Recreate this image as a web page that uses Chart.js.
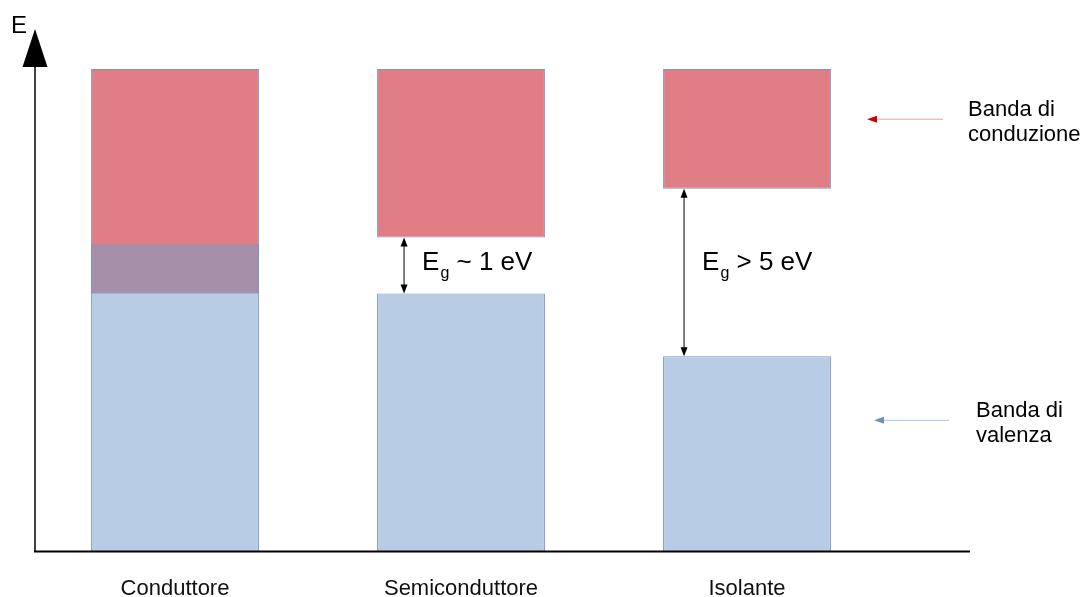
<!DOCTYPE html>
<html>
<head>
<meta charset="utf-8">
<script src="https://cdn.jsdelivr.net/npm/chart.js@4/dist/chart.umd.min.js"></script>
<style>
  html, body { margin: 0; padding: 0; background: #fff; }
  #wrap { width: 1083px; height: 597px; position: relative; }
</style>
</head>
<body>
<div id="wrap"><canvas id="chart"></canvas></div>
<script>
  // energy levels in arbitrary units (0 = axis, 10 = top of the bands)
  const categories     = ['Conduttore', 'Semiconduttore', 'Isolante'];
  const valenceBand    = [[0, 6.37], [0, 5.35], [0, 4.05]];
  const conductionBand = [[5.35, 10], [6.51, 10], [7.52, 10]];
  const overlapBand    = [[5.35, 6.37], null, null];
  const gapLabels      = [null, '~ 1 eV', '> 5 eV'];
  const sideLabels     = [['Banda di', 'conduzione'], ['Banda di', 'valenza']];
  const sideLevels     = [8.96, 2.72];

  const RED    = '#E17E85';
  const BLUE   = '#B8CDE5';
  const MIX    = '#A68FA9';
  const EDGE   = '#7C95C6';
  const INK    = '#000000';
  const FONT   = "'Liberation Sans', Arial, sans-serif";

  function arrowHead(ctx, x, y, dx, dy, len, half, color) {
    ctx.save();
    ctx.fillStyle = color;
    ctx.beginPath();
    ctx.moveTo(x, y);
    ctx.lineTo(x - dx * len - dy * half, y - dy * len + dx * half);
    ctx.lineTo(x - dx * len + dy * half, y - dy * len - dx * half);
    ctx.closePath();
    ctx.fill();
    ctx.restore();
  }

  const decorations = {
    id: 'decorations',
    afterDraw(chart) {
      const ctx = chart.ctx;
      const area = chart.chartArea;
      const y = chart.scales.y;
      const bottom = y.getPixelForValue(0);
      const axisX = area.left + 3;

      ctx.save();
      // axes
      ctx.strokeStyle = INK;
      ctx.lineWidth = 2;
      ctx.beginPath();
      ctx.moveTo(axisX - 1, bottom);
      ctx.lineTo(970, bottom);
      ctx.stroke();
      ctx.lineWidth = 1.5;
      ctx.beginPath();
      ctx.moveTo(axisX, bottom);
      ctx.lineTo(axisX, 60);
      ctx.stroke();
      ctx.fillStyle = INK;
      ctx.beginPath();
      ctx.moveTo(axisX, 29);
      ctx.lineTo(axisX - 12.5, 67);
      ctx.lineTo(axisX + 12.5, 67);
      ctx.closePath();
      ctx.fill();
      ctx.font = '24px ' + FONT;
      ctx.textBaseline = 'alphabetic';
      ctx.fillText('E', 11, 33);

      // band gaps
      const meta = chart.getDatasetMeta(1);
      const arrowDx = [0, 27, 21];
      gapLabels.forEach((txt, i) => {
        if (!txt) return;
        const bar = meta.data[i];
        const left = bar.x - bar.width / 2;
        const ax = left + arrowDx[i];
        const y1 = y.getPixelForValue(conductionBand[i][0]);
        const y2 = y.getPixelForValue(valenceBand[i][1]);
        ctx.strokeStyle = INK;
        ctx.lineWidth = 1;
        ctx.beginPath();
        ctx.moveTo(ax, y1 + 6);
        ctx.lineTo(ax, y2 - 6);
        ctx.stroke();
        arrowHead(ctx, ax, y1, 0, -1, 9, 3.5, INK);
        arrowHead(ctx, ax, y2, 0, 1, 9, 3.5, INK);

        const tx = ax + 18;
        const base = y.getPixelForValue(5.83);
        ctx.fillStyle = INK;
        ctx.font = '26px ' + FONT;
        ctx.fillText('E', tx, base);
        let w = ctx.measureText('E').width + 1;
        ctx.font = '16px ' + FONT;
        ctx.fillText('g', tx + w, base + 8);
        w += ctx.measureText('g').width;
        ctx.font = '26px ' + FONT;
        ctx.fillText(' ' + txt, tx + w, base);
      });

      // side legend
      const sideColors = [['#EBA0A5', '#CC0000'], ['#A9C4E8', '#6C8EBF']];
      const sideX = [[943, 867, 968], [949, 874, 976]];
      sideLabels.forEach((lines, k) => {
        const ly = y.getPixelForValue(sideLevels[k]);
        const [x0, x1, tx] = sideX[k];
        ctx.strokeStyle = sideColors[k][0];
        ctx.lineWidth = 1;
        ctx.beginPath();
        ctx.moveTo(x0, ly);
        ctx.lineTo(x1 + 8, ly);
        ctx.stroke();
        arrowHead(ctx, x1, ly, -1, 0, 10, 3.5, sideColors[k][1]);
        ctx.fillStyle = INK;
        ctx.font = '22px ' + FONT;
        ctx.fillText(lines[0], tx, ly - 3);
        ctx.fillText(lines[1], tx, ly + 22);
      });
      ctx.restore();
    }
  };

  new Chart(document.getElementById('chart'), {
    type: 'bar',
    data: {
      labels: categories,
      datasets: [
        { label: 'Sovrapposizione', data: overlapBand, backgroundColor: MIX,
          borderColor: EDGE, borderWidth: 1, borderSkipped: false, grouped: false },
        { label: 'Banda di conduzione', data: conductionBand, backgroundColor: RED,
          borderColor: EDGE, borderWidth: 1, borderSkipped: false, grouped: false },
        { label: 'Banda di valenza', data: valenceBand, backgroundColor: BLUE,
          borderColor: EDGE, borderWidth: 1, borderSkipped: false, grouped: false },
      ],
    },
    options: {
      responsive: true,
      maintainAspectRatio: false,
      animation: false,
      categoryPercentage: 0.587,
      barPercentage: 1,
      layout: { padding: { left: 32, right: 193, top: 69, bottom: -21 } },
      plugins: { legend: { display: false }, tooltip: { enabled: false } },
      scales: {
        x: {
          grid: { display: false },
          border: { display: false },
          ticks: { color: '#111', padding: 16, font: { family: FONT, size: 22, lineHeight: 1.2 } },
        },
        y: { display: false, min: 0, max: 10 },
      },
    },
    plugins: [decorations],
  });
</script>
</body>
</html>
